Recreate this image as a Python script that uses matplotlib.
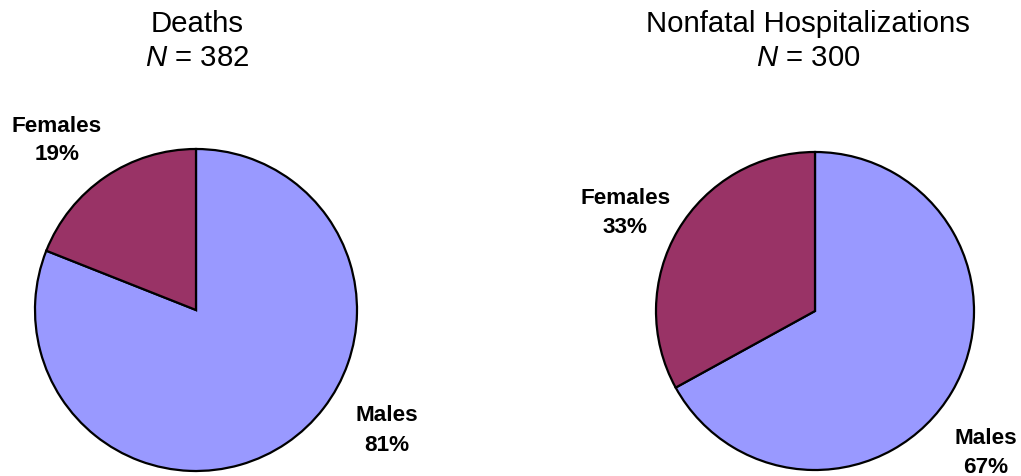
import matplotlib
matplotlib.use("Agg")
import matplotlib.pyplot as plt

plt.rcParams['font.family'] = ['Liberation Sans', 'DejaVu Sans']
plt.rcParams['mathtext.fontset'] = 'custom'
plt.rcParams['mathtext.it'] = 'Liberation Sans:italic'
plt.rcParams['mathtext.rm'] = 'Liberation Sans'

categories = ["Males", "Females"]
deaths_pct = [81, 19]
hosp_pct = [67, 33]
titles = ["Deaths", "Nonfatal Hospitalizations"]
totals = [382, 300]
colors = ["#9999FF", "#993366"]

W, H = 1021, 477
fig = plt.figure(figsize=(W / 100, H / 100), dpi=100)


def add_pie(cx, cy, r, values, title, n, label_pos):
    ax = fig.add_axes([(cx - r) / W, (H - cy - r) / H, 2 * r / W, 2 * r / H])
    ax.pie(values, colors=colors, startangle=90, counterclock=False,
           radius=1, wedgeprops=dict(edgecolor="black", linewidth=1.6))
    ax.set_xlim(-1, 1)
    ax.set_ylim(-1, 1)
    ax.set_aspect('auto')
    ax.axis('off')

    def to_data(px, py):
        return (px - cx) / r, (cy - py) / r

    # titles
    tx = label_pos["title_x"]
    x, y = to_data(tx, 32)
    ax.text(x, y, title, ha='center', va='baseline', fontsize=21.2, clip_on=False)
    x, y = to_data(tx, 66)
    ax.text(x, y, r"$\mathit{N}$ = %d" % n, ha='center', va='baseline',
            fontsize=21.2, clip_on=False)

    for cat, val in zip(categories, values):
        px, py1, py2 = label_pos[cat]
        x, y = to_data(px, py1)
        ax.text(x, y, cat, ha='center', va='baseline', fontsize=16.2,
                fontweight='bold', clip_on=False)
        x, y = to_data(px, py2)
        ax.text(x, y, f"{val}%", ha='center', va='baseline', fontsize=16.2,
                fontweight='bold', clip_on=False)


add_pie(196, 311, 161, deaths_pct, titles[0], totals[0],
        {"title_x": 197.5, "Females": (57, 132, 160), "Males": (387, 421, 451)})
add_pie(815, 312, 159, hosp_pct, titles[1], totals[1],
        {"title_x": 808, "Females": (625.5, 204, 233), "Males": (986, 444, 473)})

fig.savefig("out.png", dpi=100)
